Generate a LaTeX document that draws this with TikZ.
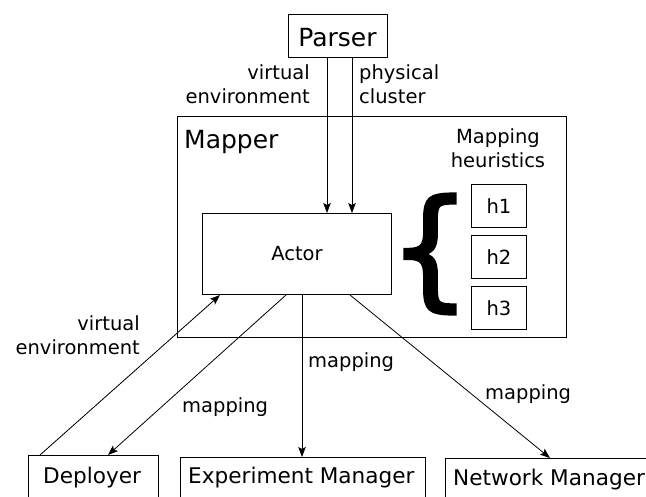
\documentclass[tikz,border=0pt]{standalone}
\usepackage{fontspec}
\setmainfont{DejaVu Sans}
\newfontfamily\bracefont{DejaVu Sans}[FakeBold=2.4]
\usetikzlibrary{arrows.meta,calc}
\begin{document}
\begin{tikzpicture}[x=1pt,y=-1pt,
  box/.style={draw, line width=1pt, inner sep=0pt, anchor=north west},
  lbl/.style={font=\fontsize{19.5}{24}\selectfont, inner sep=0pt},
  big/.style={font=\fontsize{25}{30}\selectfont, inner sep=0pt},
  bot/.style={font=\fontsize{21.6}{26}\selectfont, inner sep=0pt},
  arr/.style={-{Stealth[length=10pt,width=7.5pt,inset=2pt]}, line width=0.8pt}]
\useasboundingbox (0,0) rectangle (646,496);
\clip (0,0) rectangle (646,496);
% boxes
\node[box, minimum width=99pt, minimum height=43pt] (parser) at (288,14) {};
\node[big, anchor=base] (parsertxt) at (337.5,46) {Parser};
\node[box, minimum width=389pt, minimum height=221pt] (mapper) at (177,116) {};
\node[big, anchor=base west] (mappertxt) at (184,148) {Mapper};
\node[box, minimum width=189pt, minimum height=81pt] (actor) at (202,213) {};
\node[lbl] (actortxt) at (actor.center) {Actor};
\node[lbl, align=center, anchor=north] (heur) at (498,128) {Mapping\\heuristics};
\node[box, minimum width=55pt, minimum height=43pt] (h1) at (471,184) {};
\node[lbl] (h1txt) at (h1.center) {h1};
\node[box, minimum width=55pt, minimum height=43pt] (h2) at (471,235) {};
\node[lbl] (h2txt) at (h2.center) {h2};
\node[box, minimum width=55pt, minimum height=43pt] (h3) at (471,286) {};
\node[lbl] (h3txt) at (h3.center) {h3};
\node[font=\fontsize{130}{130}\bracefont, inner sep=0pt] (brace) at (430,254) {\{};
% bottom boxes
\node[box, minimum width=130pt, minimum height=60pt] (dep) at (28,455) {};
\node[bot, anchor=base west] (deptxt) at (43,483) {Deployer};
\node[box, minimum width=245pt, minimum height=60pt] (exp) at (180,457) {};
\node[bot, anchor=base west] (exptxt) at (188,483) {Experiment Manager};
\node[box, minimum width=215pt, minimum height=60pt] (net) at (445,458) {};
\node[bot, anchor=base west] (nettxt) at (453,485) {Network Manager};
% labels
\node[lbl, align=right, anchor=north east] (ve1) at (310,64) {virtual\\environment};
\node[lbl, align=left, anchor=north west] (pc) at (359,64) {physical\\cluster};
\node[lbl, align=right, anchor=north east] (ve2) at (140,315) {virtual\\environment};
\node[lbl, anchor=base west] (m1) at (182,412) {mapping};
\node[lbl, anchor=base west] (m2) at (308,367) {mapping};
\node[lbl, anchor=base west] (m3) at (485,399) {mapping};
% connectors
\draw[arr] ($(parser.south west)+(39,0)$) -- ($(actor.north west)+(125,0)$);
\draw[arr] ($(parser.south west)+(64,0)$) -- ($(actor.north west)+(150,0)$);
\draw[arr] ($(dep.north west)+(12,0)$) -- ($(actor.south west)+(18,0)$);
\draw[arr] ($(actor.south west)+(84,0)$) -- ($(dep.north west)+(80,0)$);
\draw[arr] ($(actor.south west)+(100,0)$) -- ($(exp.north west)+(122,0)$);
\draw[arr] ($(actor.south west)+(148,0)$) -- ($(net.north west)+(105,0)$);
\end{tikzpicture}
\end{document}
